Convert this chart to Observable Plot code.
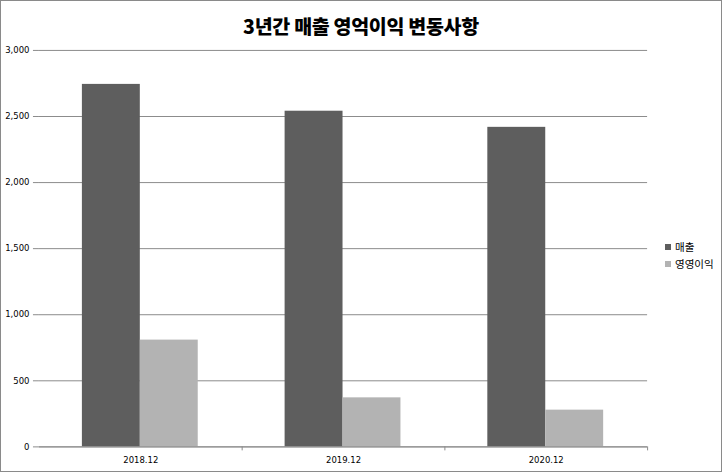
<!DOCTYPE html>
<html>
<head>
<meta charset="utf-8">
<script src="https://cdn.jsdelivr.net/npm/d3@7"></script>
<script src="https://cdn.jsdelivr.net/npm/@observablehq/plot@0.6"></script>
<style>
  html, body { margin: 0; padding: 0; background: #fff; }
  #wrap { position: relative; width: 722px; height: 472px; box-sizing: border-box; border: 1px solid #8a8a8a; overflow: hidden; font-family: "DejaVu Sans", sans-serif; }
  #chart { position: absolute; left: -1px; top: -1px; }
  #title { position: absolute; left: -1px; width: 722px; top: 10px; text-align: center; font-family: "Noto Sans CJK KR", sans-serif; font-weight: 900; font-size: 19.5px; color: #000; letter-spacing: -0.3px; }
  #legend { position: absolute; left: 664px; top: 237px; font-family: "Noto Sans CJK KR", sans-serif; font-size: 10.5px; color: #000; }
  .item { display: flex; align-items: center; height: 17px; }
  .sw { width: 6px; height: 6px; margin-right: 4px; }
</style>
</head>
<body>
<div id="wrap">
  <div id="title"></div>
  <div id="chart"></div>
  <div id="legend"></div>
</div>
<script>
const title = "3년간 매출 영억이익 변동사항";
const years = ["2018.12", "2019.12", "2020.12"];
const seriesNames = ["매출", "영영이익"];
const sales = [2743, 2540, 2418];
const opProfit = [808, 371, 278];
const yTicks = [0, 500, 1000, 1500, 2000, 2500, 3000];
const colors = ["#5e5e5e", "#b3b3b3"];

const W = 722, H = 472;
const mL = 39, mR = 74, mT = 50, mB = 25;
const bw = (W - mL - mR) / years.length;

const salesData = years.map((y, i) => ({year: y, value: sales[i]}));
const opData = years.map((y, i) => ({year: y, value: opProfit[i]}));

const plot = Plot.plot({
  width: W, height: H,
  marginLeft: mL, marginRight: mR, marginTop: mT, marginBottom: mB,
  style: {fontFamily: "DejaVu Sans, sans-serif", fontSize: "8.5px", color: "#000", background: "transparent"},
  x: {domain: years, padding: 0, label: null},
  y: {domain: [0, 3000], label: null},
  marks: [
    Plot.gridY(yTicks, {stroke: "#8c8c8c", strokeOpacity: 1, strokeWidth: 1}),
    Plot.barY(salesData, {x: "year", y: "value", fill: colors[0], insetLeft: 43, insetRight: bw - 101}),
    Plot.barY(opData, {x: "year", y: "value", fill: colors[1], insetLeft: 101, insetRight: bw - 159}),
    Plot.ruleY([0], {stroke: "#8c8c8c"}),
    Plot.ruleX([0], {frameAnchor: "left", stroke: "#8c8c8c", insetBottom: -4}),
    Plot.ruleX(years, {x: d => d, dx: bw / 2, y1: 0, y2: 0, insetBottom: -4, stroke: "#8c8c8c"}),
    Plot.axisY(yTicks, {tickFormat: d3.format(","), tickSize: 6, tickPadding: 4, stroke: "#8c8c8c", label: null}),
    Plot.axisX({tickSize: 0, tickPadding: 10, label: null})
  ]
});
document.getElementById("chart").appendChild(plot);
document.getElementById("title").textContent = title;
const leg = document.getElementById("legend");
seriesNames.forEach((n, i) => {
  const d = document.createElement("div"); d.className = "item";
  const s = document.createElement("span"); s.className = "sw"; s.style.background = colors[i];
  const t = document.createElement("span"); t.textContent = n;
  d.appendChild(s); d.appendChild(t); leg.appendChild(d);
});
</script>
</body>
</html>
